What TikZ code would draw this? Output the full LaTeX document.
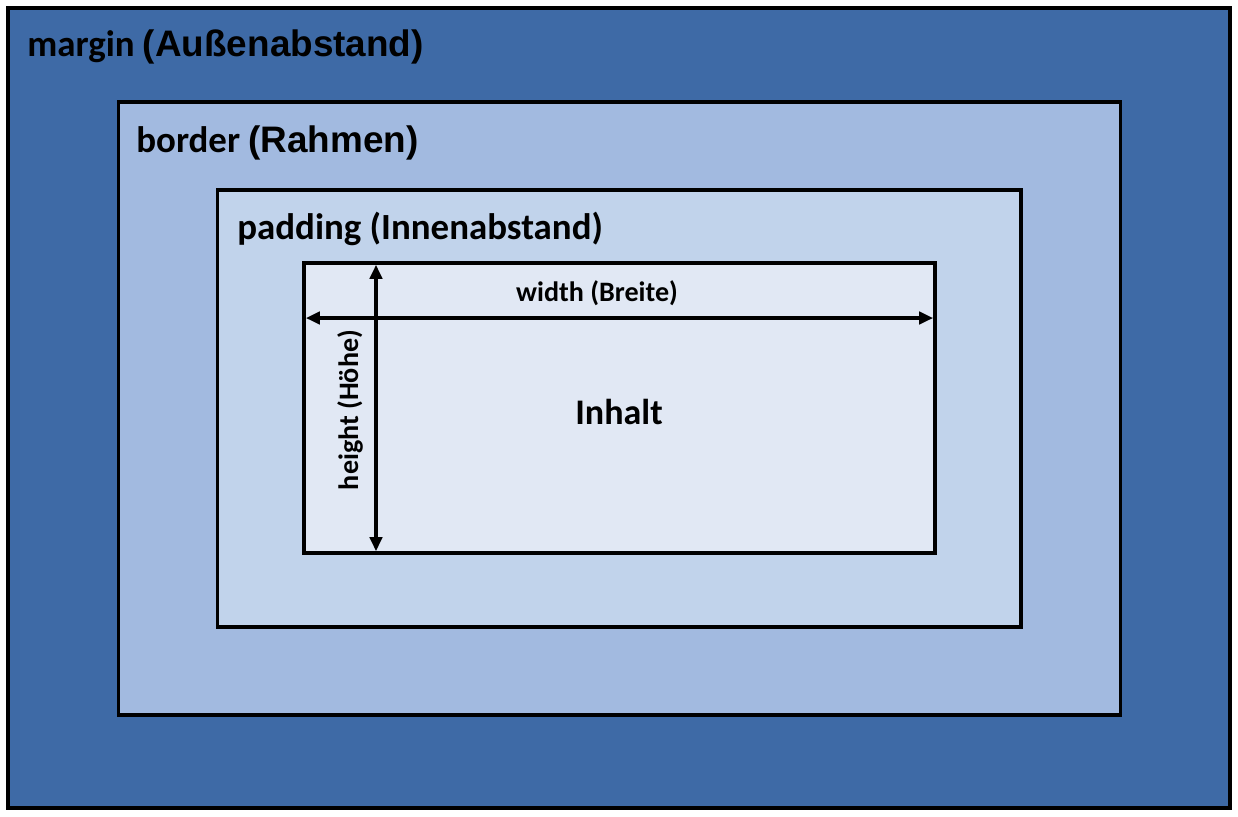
\documentclass[tikz,border=0pt]{standalone}
\usepackage{fontspec}
\setmainfont{Carlito}
\newfontfamily\arialfont{Liberation Sans}
\usetikzlibrary{positioning,arrows.meta}
\definecolor{marginblue}{RGB}{62,106,166}
\definecolor{borderblue}{RGB}{162,186,224}
\definecolor{paddingblue}{RGB}{193,211,235}
\definecolor{contentblue}{RGB}{225,232,244}

\begin{document}
\begin{tikzpicture}[
      x=0.02cm, y=-0.02cm,
      >={Triangle[length=8pt,width=7pt]},
      box/.style ={draw=black, inner sep=0pt, outer sep=0pt},
      ttl/.style ={font=\bfseries\fontsize{21}{24}\selectfont, anchor=west,
                   inner sep=0pt},
      dim/.style ={font=\bfseries\fontsize{16}{18}\selectfont, inner sep=0pt},
      arr/.style ={<->, line width=2pt, draw=black, shorten <=1pt,
                   shorten >=1pt}
    ]
    \useasboundingbox (0,0) rectangle (1238,816);
    % --- boxes, outside in ---
    \node[box, line width=2pt, fill=marginblue, minimum width=24.44cm,
          minimum height=16cm] (mar) at (619,408) {};
    \node[box, line width=1.8pt, fill=borderblue, minimum width=20.06cm,
          minimum height=12.26cm] (bor) at (619.5,408.5) {};
    \node[box, line width=1.8pt, fill=paddingblue, minimum width=16.08cm,
          minimum height=8.74cm] (pad) at (619,408.5) {};
    \node[box, line width=1.8pt, fill=contentblue, minimum width=12.62cm,
          minimum height=5.8cm] (cnt) at (619.5,408) {};
    % --- titles ---
    \node[ttl] (tmar) at (27,47) {margin {\arialfont(Außenabstand)}};
    \node[ttl] (tbor) at (136,143) {border {\arialfont(Rahmen)}};
    \node[ttl] (tpad) at (237,229) {padding (Innenabstand)};
    \node[font=\bfseries\fontsize{20.5}{24}\selectfont] (inh) at (619,412) {Inhalt};
    % --- dimension arrows ---
    \coordinate (wy) at (619,318);
    \coordinate (hx) at (376,408);
    \draw[arr] (cnt.west |- wy) -- (cnt.east |- wy);
    \draw[arr] (cnt.north -| hx) -- (cnt.south -| hx);
    \node[dim] (wlbl) at (597,293) {width (Breite)};
    \node[dim, rotate=90] (hlbl) at (350,410) {height (Höhe)};
  \end{tikzpicture}
\end{document}
